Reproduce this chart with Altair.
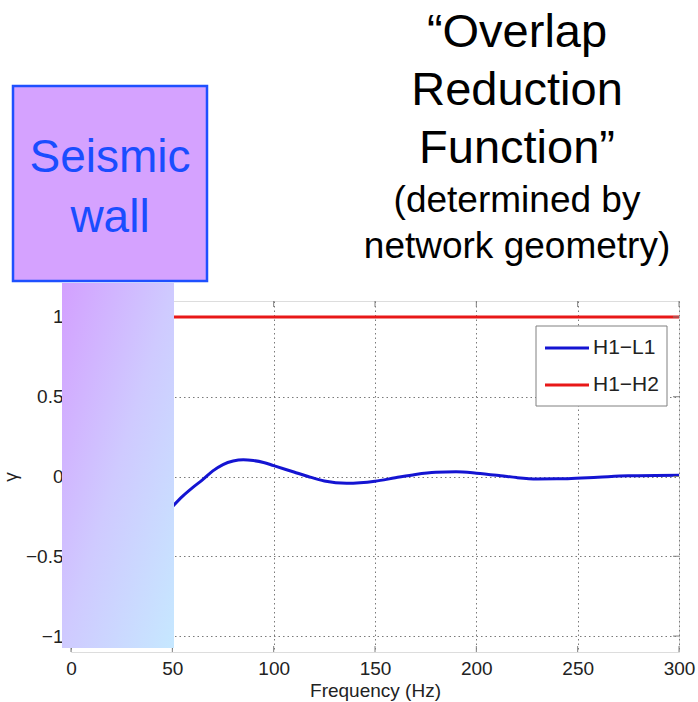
import altair as alt
import pandas as pd

# ---------------- data ----------------
freq_hl = [50, 55, 60, 65, 70, 75, 80, 85, 90, 95, 100, 110, 117, 125, 136, 150,
           160, 170, 180, 190, 200, 212, 220, 230, 245, 260, 275, 300]
gamma_hl = [-0.19, -0.125, -0.07, -0.02, 0.035, 0.075, 0.097, 0.105, 0.1, 0.088,
            0.068, 0.028, 0.0, -0.028, -0.043, -0.03, -0.008, 0.013, 0.026, 0.029,
            0.021, 0.005, -0.007, -0.015, -0.014, -0.005, 0.004, 0.008]
freq_hh = [0, 300]
gamma_hh = [1, 1]
series = ["H1\u2212L1", "H1\u2212H2"]
series_colors = ["#1414d2", "#e81818"]
x_ticks = [0, 50, 100, 150, 200, 250, 300]
y_ticks = [-1, -0.5, 0, 0.5, 1]
title_big = ["\u201cOverlap", "Reduction", "Function\u201d"]
title_small = ["(determined by", "network geometry)"]
wall_text = ["Seismic", "wall"]

FONT = "Liberation Sans"
W, H = 608, 351

df_lines = pd.concat([
    pd.DataFrame({"f": freq_hl, "g": gamma_hl, "s": series[0]}),
    pd.DataFrame({"f": freq_hh, "g": gamma_hh, "s": series[1]}),
])
one = pd.DataFrame({"a": [0]})

xscale = alt.Scale(domain=[0, 300], nice=False, zero=False)
yscale = alt.Scale(domain=[-1.1, 1.1], nice=False, zero=False)

xaxis = alt.Axis(values=x_ticks, format="d", domain=False, ticks=False, tickSize=0,
                 labelFlush=False, labelOverlap=False,
                 labelFontSize=19, labelColor="#222222", labelFont=FONT,
                 labelBaseline="alphabetic", labelPadding=22,
                 grid=True, gridColor="#7a7a7a", gridDash=[1.5, 3], gridWidth=1,
                 title="Frequency (Hz)", titleFontSize=19, titleFontWeight="normal",
                 titleColor="#222222", titleFont=FONT, titleBaseline="alphabetic",
                 titleY=44, zindex=0)
yaxis = alt.Axis(values=y_ticks, format="~g", domain=False, ticks=False, tickSize=0,
                 labelFlush=False, labelOverlap=False,
                 labelFontSize=19, labelColor="#222222", labelFont=FONT, labelPadding=8,
                 grid=True, gridColor="#7a7a7a", gridDash=[1.5, 3], gridWidth=1,
                 title="\u03b3", titleFontSize=19, titleFontWeight="normal",
                 titleColor="#222222", titleFont=FONT, titleAngle=270,
                 titleX=-61, titleY=H / 2, titleBaseline="middle", titleAlign="center",
                 zindex=0)

lines = alt.Chart(df_lines).mark_line(strokeWidth=3, interpolate="monotone").encode(
    x=alt.X("f:Q", scale=xscale, axis=xaxis),
    y=alt.Y("g:Q", scale=yscale, axis=yaxis),
    color=alt.Color("s:N", scale=alt.Scale(domain=series, range=series_colors), legend=None),
    detail="s:N",
)

# inward ticks (MATLAB style)
tick_col = "#808080"
df_xt = pd.DataFrame({"t": x_ticks})
df_yt = pd.DataFrame({"t": y_ticks})
ticks_bottom = alt.Chart(df_xt).mark_rule(color=tick_col).encode(
    x=alt.X("t:Q", scale=xscale), y=alt.value(H), y2=alt.value(H - 6))
ticks_top = alt.Chart(df_xt).mark_rule(color=tick_col).encode(
    x=alt.X("t:Q", scale=xscale), y=alt.value(0), y2=alt.value(6))
ticks_right = alt.Chart(df_yt).mark_rule(color=tick_col).encode(
    y=alt.Y("t:Q", scale=yscale), x=alt.value(W), x2=alt.value(W - 6))
ticks_left = alt.Chart(df_yt).mark_rule(color=tick_col).encode(
    y=alt.Y("t:Q", scale=yscale), x=alt.value(0), x2=alt.value(6))

# legend (manual, MATLAB style)
legend_box = alt.Chart(one).mark_rect(fill="white", stroke="#808080", strokeWidth=1).encode(
    x=alt.value(465), x2=alt.value(596), y=alt.value(25), y2=alt.value(105))
legend_layers = [legend_box]
for i, (name, col) in enumerate(zip(series, series_colors)):
    yy = 47 + i * 37
    legend_layers.append(alt.Chart(one).mark_rule(color=col, strokeWidth=3).encode(
        x=alt.value(474), x2=alt.value(518), y=alt.value(yy)))
    legend_layers.append(alt.Chart(one).mark_text(
        text=name, font=FONT, fontSize=21, color="#222222", align="left", baseline="middle"
    ).encode(x=alt.value(522), y=alt.value(yy)))

# seismic wall gradient over low frequencies
grad = alt.LinearGradient(
    gradient="linear",
    stops=[alt.GradientStop(color="#d3a0ff", offset=0),
           alt.GradientStop(color="#cfcaff", offset=0.5),
           alt.GradientStop(color="#c6e8ff", offset=1)],
    x1=0, y1=0, x2=1, y2=1)
wall_rect = alt.Chart(one).mark_rect(fill=grad).encode(
    x=alt.value(-9), x2=alt.value(103), y=alt.value(-18), y2=alt.value(347))

wall_box = alt.Chart(one).mark_rect(fill="#d5a2ff", stroke="#1f50ff", strokeWidth=2.5).encode(
    x=alt.value(-58), x2=alt.value(136), y=alt.value(-215), y2=alt.value(-20))
wall_label = alt.Chart(one).mark_text(
    text=wall_text, font=FONT, fontSize=46, color="#1a4dff", align="center",
    baseline="alphabetic", lineHeight=60).encode(x=alt.value(39), y=alt.value(-129))

title1 = alt.Chart(one).mark_text(
    text=title_big, font=FONT, fontSize=47, color="black", align="center",
    baseline="alphabetic", lineHeight=58).encode(x=alt.value(446), y=alt.value(-254))
title2 = alt.Chart(one).mark_text(
    text=title_small, font=FONT, fontSize=37, color="black", align="center",
    baseline="alphabetic", lineHeight=46).encode(x=alt.value(446), y=alt.value(-89))

chart = alt.layer(
    lines, ticks_bottom, ticks_top, ticks_right, ticks_left,
    *legend_layers, wall_rect, wall_box, wall_label, title1, title2
).properties(
    width=W, height=H, autosize="none",
    padding={"left": 71, "top": 301, "right": 19, "bottom": 50},
    background="white",
).configure_view(stroke="#808080", strokeWidth=1).configure(font=FONT)

chart.save("out.html", embed_options={"renderer": "svg", "actions": False})
